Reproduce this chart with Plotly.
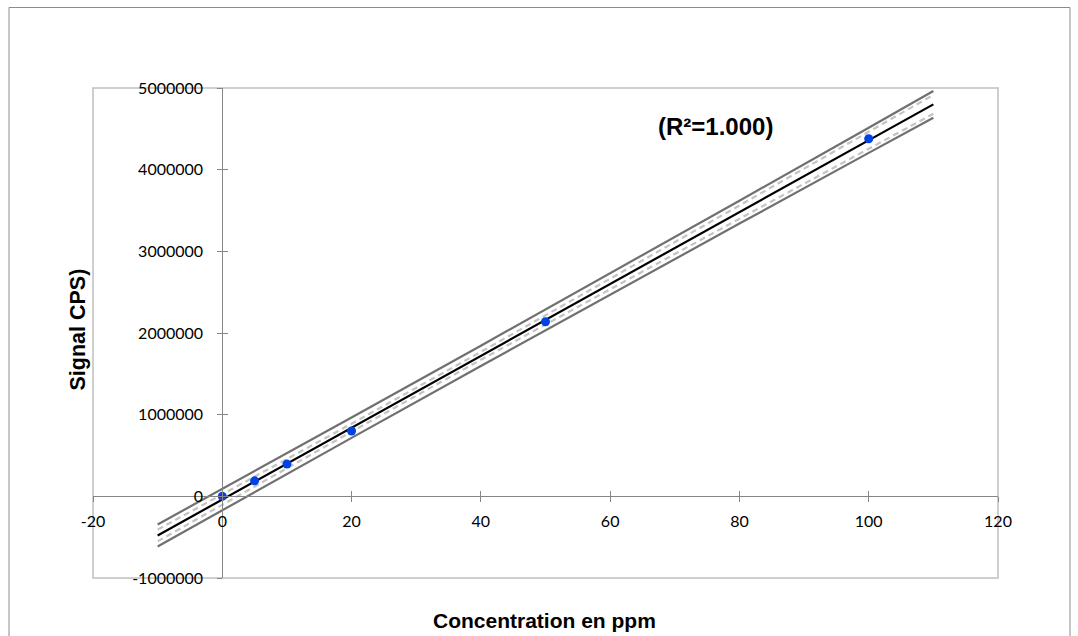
import numpy as np
import plotly.graph_objects as go

# ---- data ----
conc = [0, 5, 10, 20, 50, 100]
signal = [0, 190000, 395000, 800000, 2138000, 4379000]

# band positions and half-widths
band_x = [-10, 0, 20, 40, 60, 80, 100, 110]
pred_half = [135000, 130000, 124500, 124500, 130000, 140000, 154500, 163000]
conf_half = [72000, 62000, 49000, 48500, 61000, 81000, 104000, 116000]

x_ticks = [-20, 0, 20, 40, 60, 80, 100, 120]
x_tick_text = ["-20", "0", "20", "40", "60", "80", "100", "120"]
y_ticks = [-1000000, 0, 1000000, 2000000, 3000000, 4000000, 5000000]
y_tick_text = ["-1000000", "0", "1000000", "2000000", "3000000", "4000000", "5000000"]

r2_text = "(R²=1.000)"
x_title = "Concentration en ppm"
y_title = "Signal CPS)"

# ---- fit ----
slope, intercept = np.polyfit(conc, signal, 1)
bx = np.array(band_x, dtype=float)
fit_y = intercept + slope * bx
pred_up = fit_y + np.array(pred_half)
pred_lo = fit_y - np.array(pred_half)
conf_up = fit_y + np.array(conf_half)
conf_lo = fit_y - np.array(conf_half)

XR = [-20, 120]
YR = [-1000000, 5000000]

L, T, PW, PH = 93, 88, 905, 490
W, H = 1078, 636

fig = go.Figure()
for yy in (pred_up, pred_lo):
    fig.add_trace(go.Scatter(x=bx, y=yy, mode="lines",
                             line=dict(color="#707070", width=2.2), hoverinfo="skip"))
for yy in (conf_up, conf_lo):
    fig.add_trace(go.Scatter(x=bx, y=yy, mode="lines",
                             line=dict(color="#c4c4c4", width=2.2, dash="6px,4px"), hoverinfo="skip"))
fig.add_trace(go.Scatter(x=bx, y=fit_y, mode="lines",
                         line=dict(color="#000000", width=2.2)))
fig.add_trace(go.Scatter(x=conc, y=signal, mode="markers",
                         marker=dict(color="#0041e8", size=9, line=dict(width=0))))
# dummy trace to materialize overlay axes (for cross ticks)
fig.add_trace(go.Scatter(x=[None], y=[None], xaxis="x2", yaxis="y2", mode="markers"))

x_pos = (0 - YR[0]) / (YR[1] - YR[0])
y_pos = (0 - XR[0]) / (XR[1] - XR[0])
tickfont = dict(family="Lato", size=16, color="#000000")
axcol = "#868686"


def px_x(p):  # window pixel -> paper x
    return (p - L) / PW


def px_y(p):  # window pixel -> paper y
    return (T + PH - p) / PH


fig.update_layout(
    width=W, height=H,
    margin=dict(l=L, r=W - L - PW, t=T, b=H - T - PH),
    paper_bgcolor="white", plot_bgcolor="white",
    showlegend=False,
    xaxis=dict(range=XR, anchor="free", position=x_pos, showgrid=False, zeroline=False,
               showline=True, linecolor=axcol, linewidth=1,
               tickmode="array", tickvals=x_ticks, ticktext=x_tick_text,
               ticks="outside", ticklen=5, tickcolor=axcol, tickwidth=1,
               tickfont=tickfont, ticklabelstandoff=5),
    yaxis=dict(range=YR, anchor="free", position=y_pos, showgrid=False, zeroline=False,
               showline=True, linecolor=axcol, linewidth=1,
               tickmode="array", tickvals=y_ticks, ticktext=y_tick_text,
               ticks="outside", ticklen=5, tickcolor=axcol, tickwidth=1,
               tickfont=tickfont, ticklabelstandoff=11),
    xaxis2=dict(range=XR, overlaying="x", anchor="free", position=x_pos, showgrid=False,
                zeroline=False, showline=False, tickmode="array", tickvals=x_ticks,
                ticks="inside", ticklen=5, tickcolor=axcol, tickwidth=1, showticklabels=False),
    yaxis2=dict(range=YR, overlaying="y", anchor="free", position=y_pos, showgrid=False,
                zeroline=False, showline=False, tickmode="array", tickvals=y_ticks,
                ticks="inside", ticklen=5, tickcolor=axcol, tickwidth=1, showticklabels=False),
    shapes=[
        dict(type="rect", xref="paper", yref="paper", x0=0, x1=1, y0=0, y1=1,
             line=dict(color="#c0c0c0", width=1.5), layer="below"),
        dict(type="rect", xref="paper", yref="paper", x0=px_x(9), x1=px_x(1070),
             y0=px_y(660), y1=px_y(7.5), line=dict(color="#8c8c8c", width=1)),
    ],
    annotations=[
        dict(text=r2_text, xref="paper", yref="paper", x=px_x(715), y=px_y(127),
             showarrow=False, xanchor="center", yanchor="middle",
             font=dict(family="Liberation Sans", size=24, color="#000000")),
        dict(text=x_title, xref="paper", yref="paper", x=px_x(544), y=px_y(620),
             showarrow=False, xanchor="center", yanchor="middle",
             font=dict(family="Liberation Sans", size=21, color="#000000")),
        dict(text=y_title, xref="paper", yref="paper", x=px_x(77.5), y=px_y(330),
             showarrow=False, xanchor="center", yanchor="middle", textangle=-90,
             font=dict(family="Liberation Sans", size=21.5, color="#000000")),
    ],
)
for a in fig.layout.annotations:
    a.text = "<b>" + a.text + "</b>"

fig.write_html("out.html", config={"displayModeBar": False},
               post_script="document.body.style.margin='0';document.body.style.overflow='hidden';")
